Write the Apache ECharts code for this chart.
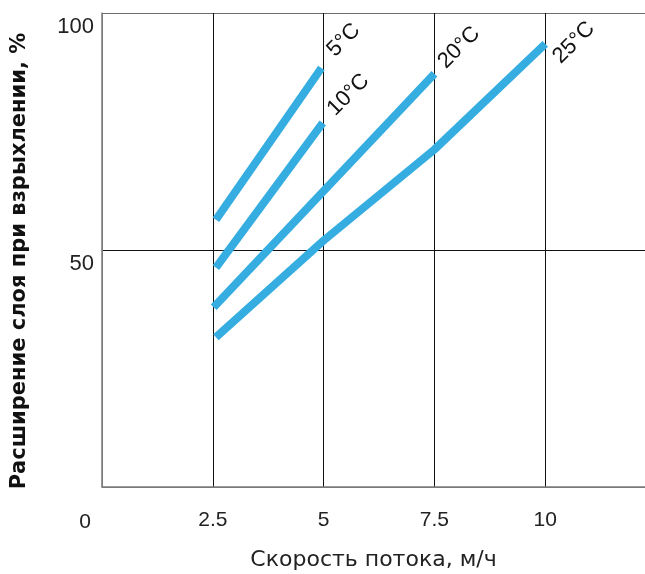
<!DOCTYPE html>
<html><head><meta charset="utf-8">
<script src="https://cdn.jsdelivr.net/npm/echarts@6/dist/echarts.min.js"></script>
<style>html,body{margin:0;padding:0;background:#fff}#c{width:645px;height:574px}</style>
</head><body><div id="c"></div>
<script>
const xTicks = [0, 2.5, 5, 7.5, 10];
const yTicks = [0, 50, 100];
const seriesNames = ['5°C', '10°C', '20°C', '25°C'];
const s5 = [[2.57, 56.4], [4.95, 88.4]];
const s10 = [[2.57, 46.3], [4.98, 76.8]];
const s20 = [[2.52, 37.9], [7.5, 87.2]];
const s25 = [[2.57, 31.6], [5, 52.0], [7.5, 71.2], [10, 93.5]];
const xTitle = 'Скорость потока, м/ч';
const yTitle = 'Расширение слоя при взрыхлении, %';

const blue = '#35ade1';
const labelOffsets = [[17, -7], [16, -3], [15, -1], [19, 24]];
function mk(name, data, k) {
  const d = data.map((p, i) => i === data.length - 1 ? {
    value: p,
    label: { show: true, formatter: name, position: labelOffsets[k], rotate: 45,
      align: 'left', verticalAlign: 'bottom',
      fontFamily: 'Liberation Sans, Arial', fontSize: 22, color: '#111' }
  } : { value: p });
  return { type: 'line', name, data: d, symbol: 'circle', symbolSize: 0, showSymbol: true,
    lineStyle: { color: blue, width: 8, cap: 'butt', join: 'round' },
    itemStyle: { color: 'rgba(0,0,0,0)', borderWidth: 0 }, z: 3, animation: false };
}
const chart = echarts.init(document.getElementById('c'), null, { renderer: 'canvas' });
chart.setOption({
  animation: false,
  textStyle: { fontFamily: 'Liberation Sans, Arial' },
  grid: { left: 102, right: 0, top: 13, bottom: 87, containLabel: false, outerBoundsMode: 'none' },
  xAxis: {
    type: 'value', min: 0, max: 12.25, interval: 2.5,
    name: xTitle, nameLocation: 'middle', nameGap: 62,
    nameTextStyle: { fontSize: 22, color: '#222', fontFamily: 'DejaVu Sans' },
    axisLine: { show: true, lineStyle: { color: '#7a7a7a', width: 1.5 } },
    axisTick: { show: false },
    splitLine: { show: true, lineStyle: { color: ['#7a7a7a', '#111', '#111', '#111', '#111', 'rgba(0,0,0,0)'], width: 1 } },
    axisLabel: { margin: 23, fontSize: 21, color: '#222', showMaxLabel: false,
      formatter: v => xTicks.indexOf(v) < 0 ? '' : (v === 0 ? '{o|0}' : String(v)),
      rich: { o: { fontSize: 21, color: '#222', padding: [2, 34, 0, 0] } } }
  },
  yAxis: {
    type: 'value', min: 0, max: 100, interval: 50,
    name: yTitle, nameLocation: 'middle', nameGap: 72,
    nameTextStyle: { fontSize: 21, fontWeight: 'bold', color: '#111', fontFamily: 'DejaVu Sans', padding: [0, 22, 0, 0] },
    axisLine: { show: true, lineStyle: { color: '#7a7a7a', width: 1.5 } },
    axisTick: { show: false },
    splitLine: { show: true, lineStyle: { color: ['#7a7a7a', '#111', '#6e6e6e'], width: 1.2 } },
    axisLabel: { margin: 8, fontSize: 22, color: '#222', verticalAlign: 'top', padding: [3, 0, 0, 0],
      formatter: v => (v === 0 ? '' : String(v)) }
  },
  series: [mk(seriesNames[0], s5, 0), mk(seriesNames[1], s10, 1), mk(seriesNames[2], s20, 2), mk(seriesNames[3], s25, 3)]
});
</script></body></html>
